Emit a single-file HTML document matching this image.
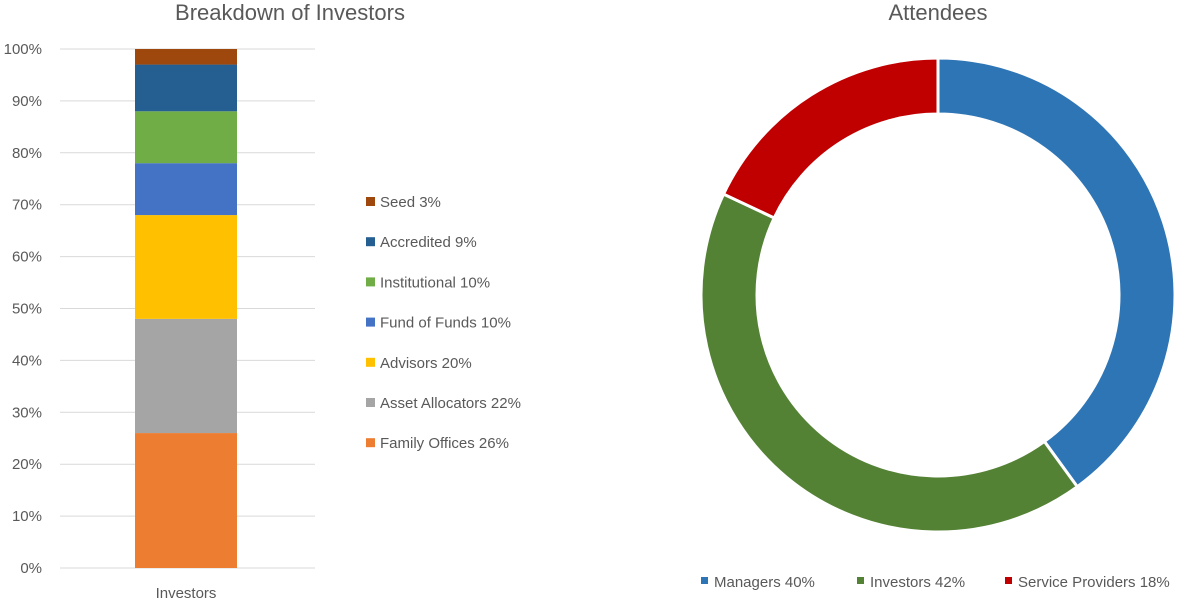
<!DOCTYPE html>
<html><head><meta charset="utf-8"><style>
body{margin:0;background:#fff;font-family:"Liberation Sans",sans-serif;}
svg text{font-family:"Liberation Sans",sans-serif;fill:#595959;}
</style></head><body>
<svg width="1185" height="600" xmlns="http://www.w3.org/2000/svg">
<g id="left">
<text x="290" y="20" font-size="22" text-anchor="middle">Breakdown of Investors</text>
<g id="grid"></g><g id="bars"></g><g id="legend"></g>
<text x="186" y="598" font-size="15" text-anchor="middle">Investors</text>
</g>
<g id="right">
<text x="938" y="20" font-size="22" text-anchor="middle">Attendees</text>
<g id="donut"></g><g id="dlegend"></g>
</g>
</svg>
<script>
const categories=["Family Offices","Asset Allocators","Advisors","Fund of Funds","Institutional","Accredited","Seed"];
const values=[26,22,20,10,10,9,3];
const colors=["#ED7D31","#A5A5A5","#FFC000","#4472C4","#70AD47","#255E91","#9E480E"];
const ticks=[0,10,20,30,40,50,60,70,80,90,100];
const donutLabels=["Managers","Investors","Service Providers"];
const donutValues=[40,42,18];
const donutColors=["#2E75B6","#548235","#C00000"];
const NS="http://www.w3.org/2000/svg";
function mk(t,a,p){const e=document.createElementNS(NS,t);for(const k in a)e.setAttribute(k,a[k]);p.appendChild(e);return e;}
const y=v=>568-v*5.19;
const grid=document.getElementById('grid');
ticks.forEach(t=>{
 const l=mk('line',{x1:60,x2:315,y1:y(t),y2:y(t),stroke:'#d9d9d9','stroke-width':1},grid);
 
 
 const tx=mk('text',{x:42,y:y(t)+5,'font-size':15,'text-anchor':'end'},grid);
 tx.textContent=t+'%';
 
 
});
const bars=document.getElementById('bars');let cum=0;
values.forEach((v,i)=>{
 const r=mk('rect',{x:135,width:102,y:y(cum+v),height:y(cum)-y(cum+v),fill:colors[i]},bars);
 
 
 cum+=v;
});
const lg=document.getElementById('legend');
for(let i=values.length-1;i>=0;i--){
 const k=values.length-1-i, yy=202+k*40.2;
 const s=mk('rect',{x:366,y:yy-5,width:9,height:9,fill:colors[i]},lg);
 
 
 const t=mk('text',{x:380,y:yy+5,'font-size':15},lg);
 t.textContent=categories[i]+' '+values[i]+'%';
 
 
}
const dn=document.getElementById('donut');
const cx=938,cy=295,R=237,r0=181;const tot=donutValues.reduce((a,b)=>a+b,0);let a0=0;
function pt(rad,a){return [cx+rad*Math.sin(a),cy-rad*Math.cos(a)];}
donutValues.forEach((v,i)=>{
 const a1=a0+v/tot*2*Math.PI, lf=(a1-a0)>Math.PI?1:0;
 const [x1,y1]=pt(R,a0),[x2,y2]=pt(R,a1),[x3,y3]=pt(r0,a1),[x4,y4]=pt(r0,a0);
 const p=mk('path',{d:`M${x1},${y1}A${R},${R} 0 ${lf} 1 ${x2},${y2}L${x3},${y3}A${r0},${r0} 0 ${lf} 0 ${x4},${y4}Z`,fill:donutColors[i],stroke:'#fff','stroke-width':3},dn);
 
 
 a0=a1;
});
const dl=document.getElementById('dlegend');const lx=[701,857,1005];
donutValues.forEach((v,i)=>{
 const s=mk('rect',{x:lx[i],y:577,width:7,height:7,fill:donutColors[i]},dl);
 
 
 const t=mk('text',{x:lx[i]+13,y:587,'font-size':15},dl);
 t.textContent=donutLabels[i]+' '+v+'%';
 
 
});
</script>
</body></html>
